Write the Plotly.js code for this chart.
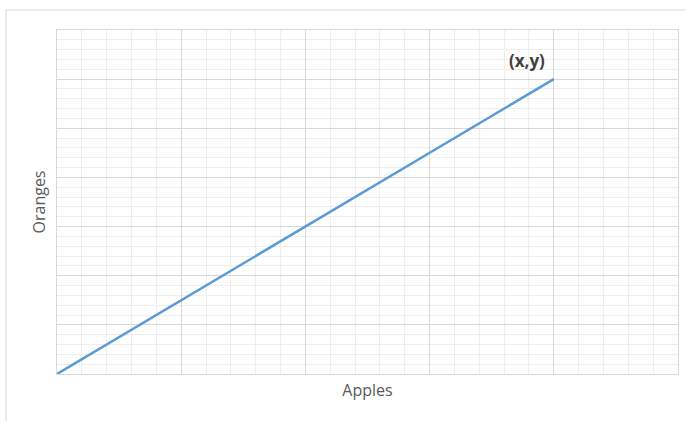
<!DOCTYPE html>
<html>
<head>
<meta charset="utf-8">
<script src="https://cdn.plot.ly/plotly-3.0.1.min.js"></script>
<style>html,body{margin:0;padding:0;background:#fff;}#chart{width:686px;height:421px;}</style>
</head>
<body>
<div id="chart"></div>
<script>
const apples = [0, 4];
const oranges = [0, 6];
const pointLabel = "<b>(x,y)</b>";
const xTitle = "Apples";
const yTitle = "Oranges";

const trace = {
  x: apples, y: oranges, type: 'scatter', mode: 'lines',
  line: {color: '#5b9bd5', width: 2.5}, hoverinfo: 'none'
};
const axisCommon = {
  showticklabels: false, ticks: '', zeroline: false,
  showgrid: true, gridcolor: '#d9d9d9', gridwidth: 1,
  showline: true, linecolor: '#d9d9d9', linewidth: 1, mirror: true,
  minor: {dtick: 0.2, showgrid: true, gridcolor: '#eeeeee', gridwidth: 1, ticks: ''}
};
const layout = {
  width: 686, height: 421,
  margin: {l: 57, r: 8, t: 30, b: 47},
  paper_bgcolor: '#ffffff', plot_bgcolor: '#ffffff',
  showlegend: false,
  font: {family: 'Open Sans, Liberation Sans, sans-serif', color: '#595959'},
  xaxis: Object.assign({}, axisCommon, {range: [0, 5], dtick: 1, tick0: 0,
    title: {text: xTitle, font: {size: 16, color: '#595959'}, standoff: 10}}),
  yaxis: Object.assign({}, axisCommon, {range: [0, 7], dtick: 1, tick0: 0,
    title: {text: yTitle, font: {size: 16, color: '#595959'}, standoff: 6}}),
  annotations: [{
    x: apples[1], y: oranges[1], xref: 'x', yref: 'y', text: pointLabel,
    showarrow: false, xanchor: 'center', yanchor: 'middle', xshift: -27, yshift: 19,
    font: {size: 17, color: '#404040', family: 'Open Sans, sans-serif'}
  }],
  shapes: [{
    type: 'rect', xref: 'paper', yref: 'paper',
    x0: -51/621, x1: 1.02, y0: -0.2, y1: 1 + 20/344,
    line: {color: '#d9d9d9', width: 1}, fillcolor: 'rgba(0,0,0,0)', layer: 'below'
  }]
};
Plotly.newPlot('chart', [trace], layout, {staticPlot: true, displayModeBar: false});
</script>
</body>
</html>
